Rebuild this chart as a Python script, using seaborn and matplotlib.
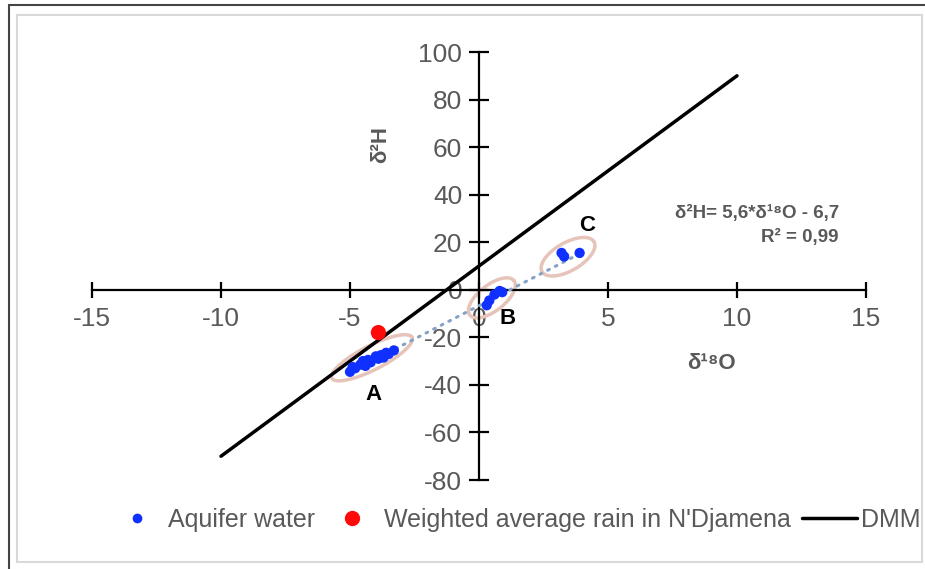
import numpy as np
import pandas as pd
import matplotlib.pyplot as plt
import seaborn as sns
from matplotlib.lines import Line2D
from matplotlib.patches import Rectangle

# isotope data (delta 18O, delta 2H)
aquifer_o18 = [-5.0, -4.9, -4.8, -4.6, -4.5, -4.4, -4.3, -4.2, -4.0, -3.9, -3.8, -3.7, -3.6, -3.5, -3.3,
               0.3, 0.4, 0.6, 0.8, 0.9,
               3.2, 3.3, 3.9]
aquifer_h2 = [-34.5, -32.5, -33.0, -31.5, -30.0, -32.0, -29.5, -30.5, -28.0, -29.0, -27.5, -28.5, -26.5, -27.0, -25.5,
              -6.5, -4.5, -2.0, -0.5, -1.0,
              15.5, 14.0, 15.5]
rain_o18 = [-3.9]
rain_h2 = [-18.0]

# DMM (global meteoric water line) end points and regression range
dmm_o18 = [-10, 10]
dmm_h2 = [8 * x + 10 for x in dmm_o18]
fit_o18 = [-5.0, 3.9]
fit_h2 = [5.6 * x - 6.7 for x in fit_o18]

# groups: label, centre (data), label position (data)
groups = ["A", "B", "C"]
group_centres = [(-4.15, -28.6), (0.5, -3.4), (3.45, 13.9)]
group_labels = [(-4.1, -44), (1.1, -12), (4.2, 27)]
ellipse_px = [(45, 12, 27), (28, 13, 38), (30, 14, 30)]  # semi-axes (px) and angle

xticks = [-15, -10, -5, 0, 5, 10, 15]
yticks = [-80, -60, -40, -20, 0, 20, 40, 60, 80, 100]

sns.set_style("white")
plt.rcParams["font.family"] = ["Liberation Sans", "DejaVu Sans"]
plt.rcParams["axes.unicode_minus"] = False
gray = "#595959"

W, H = 925, 569
fig = plt.figure(figsize=(W / 100, H / 100), dpi=100)
ax = fig.add_axes([92 / W, (H - 480) / H, 774 / W, 428 / H])
ax.set_xlim(-15, 15)
ax.set_ylim(-80, 100)

# frame like the screenshot
fig.patches.append(Rectangle((17 / W, 1 - 562 / H), 905 / W, 547 / H, transform=fig.transFigure,
                             fill=False, ec="#d9d9d9", lw=1.5))
fig.add_artist(Line2D([9 / W, 1], [1 - 5 / H, 1 - 5 / H], color="#444444", lw=1.5))
fig.add_artist(Line2D([9 / W, 9 / W], [0, 1 - 5 / H], color="#444444", lw=1.5))

sns.lineplot(x=dmm_o18, y=dmm_h2, ax=ax, color="black", lw=2.5, zorder=3)
ax.plot(fit_o18, fit_h2, color="#86a2c4", lw=2.2, ls=(0, (0.6, 2.2)),
        dash_capstyle="round", zorder=3)

# ellipses drawn in pixel units then converted to data units
px_x = 774 / 30
px_y = 428 / 180
t = np.linspace(0, 2 * np.pi, 200)
for (cx, cy), (a, b, ang) in zip(group_centres, ellipse_px):
    th = np.deg2rad(ang)
    ex = a * np.cos(t) * np.cos(th) - b * np.sin(t) * np.sin(th)
    ey = a * np.cos(t) * np.sin(th) + b * np.sin(t) * np.cos(th)
    ax.plot(cx + ex / px_x, cy + ey / px_y, color="#e6c4ba", lw=2.5, zorder=2)

sns.scatterplot(x=aquifer_o18, y=aquifer_h2, ax=ax, color="#1030ff", s=55,
                edgecolor="none", zorder=4)
sns.scatterplot(x=rain_o18, y=rain_h2, ax=ax, color="#ff0a0a", s=120,
                edgecolor="none", zorder=4)

for g, (lx, ly) in zip(groups, group_labels):
    ax.text(lx, ly, g, fontsize=16, fontweight="bold", color="black", ha="center", va="center")

# centred axes
for s in ["top", "right"]:
    ax.spines[s].set_visible(False)
ax.spines["left"].set_position(("data", 0))
ax.spines["bottom"].set_position(("data", 0))
for s in ["left", "bottom"]:
    ax.spines[s].set_linewidth(1.6)
    ax.spines[s].set_color("black")
ax.set_xticks(xticks)
ax.set_yticks(yticks)
ax.tick_params(axis="x", bottom=True, direction="inout", length=11, width=1.6, pad=7,
               labelsize=19, labelcolor=gray, color="black")
ax.tick_params(axis="y", left=True, direction="inout", length=14, width=1.6, pad=5,
               labelsize=19, labelcolor=gray, color="black")
ax.set_xlabel("")
ax.set_ylabel("")

ax.text(-3.8, 61, "δ²H", rotation=90, fontsize=16, fontweight="bold", color=gray,
        ha="center", va="center")
ax.text(9.0, -31, "δ¹⁸O", fontsize=16, fontweight="bold", color=gray,
        ha="center", va="center")
ax.text(13.95, 27, "δ²H= 5,6*δ¹⁸O - 6,7\nR² = 0,99", fontsize=13.5, fontweight="bold",
        color=gray, ha="right", va="center", multialignment="right", linespacing=1.5)

h1 = Line2D([], [], ls="none", marker="o", color="#1030ff", ms=6)
h2 = Line2D([], [], ls="none", marker="o", color="#ff0a0a", ms=10)
h3 = Line2D([], [], color="black", lw=2.5)
leg1 = fig.legend([h1, h2], ["Aquifer water", "Weighted average rain in N'Djamena"],
                  loc="center left", bbox_to_anchor=(124 / W, 1 - 520 / H), ncol=2,
                  frameon=False, fontsize=18, handlelength=1.0, handletextpad=0.75,
                  columnspacing=1.0, labelcolor=gray, borderaxespad=0, borderpad=0)
leg2 = fig.legend([h3], ["DMM"], loc="center left", bbox_to_anchor=(802 / W, 1 - 520 / H),
                  frameon=False, fontsize=18, handlelength=2.2, handletextpad=0.15,
                  labelcolor=gray, borderaxespad=0, borderpad=0)

fig.savefig("out.png", dpi=100)
plt.close()
